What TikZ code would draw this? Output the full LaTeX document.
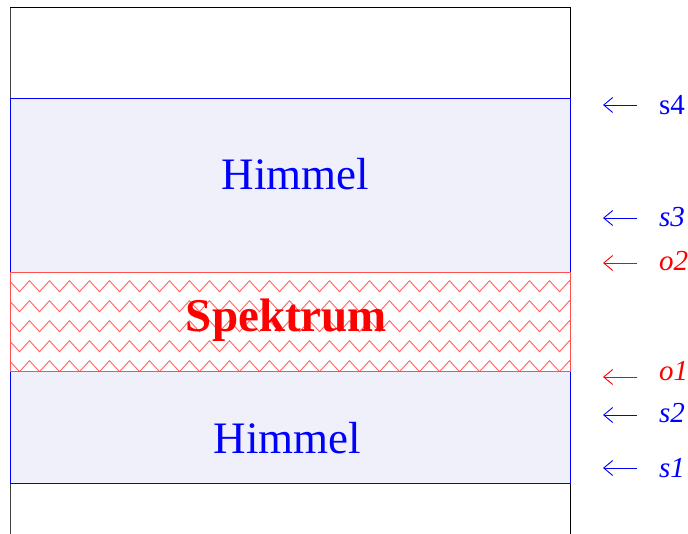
\documentclass[tikz,border=0pt]{standalone}
\usepackage{fontspec}
\usetikzlibrary{arrows.meta}
\setmainfont{Liberation Serif}
\definecolor{skyfill}{RGB}{240,240,250}
\definecolor{zigred}{RGB}{255,100,100}
\definecolor{boxred}{RGB}{255,80,80}
\begin{document}
\begin{tikzpicture}[x=1pt,y=-1pt,
  frameline/.style={draw=black,line width=0.9pt},
  skybox/.style={fill=skyfill,draw=blue,line width=0.8pt},
  specbox/.style={fill=white,draw=boxred,line width=0.9pt},
  zig/.style={draw=zigred,line width=0.9pt},
  bigtext/.style={font=\fontsize{45}{45}\selectfont,inner sep=0pt,anchor=base},
  sidearrow/.style={line width=0.9pt,-{Straight Barb[length=9pt,width=15pt,line width=0.9pt]}},
  lab/.style={font=\fontsize{29}{29}\selectfont,inner sep=0pt,anchor=west}]
\useasboundingbox (0,0) rectangle (688,534);
% frame
\draw[frameline,draw=black!75] (10,540) -- (10,7);
\draw[frameline] (10,7) -- (570,7) -- (570,540);
% sky boxes
\draw[skybox] (10,98) rectangle (570,272);
\draw[skybox] (10,371) rectangle (570,483);
% spectrum box
\draw[specbox] (10,272) rectangle (570,371);
\begin{scope}
  \clip (10,272) rectangle (570,371);
  \foreach \r in {0,...,4}{
    \pgfmathsetmacro{\yt}{280.7+20*\r}
    \pgfmathsetmacro{\yb}{\yt+11}
    \draw[zig] (-0.5,\yb) \foreach \k in {0,...,29}{ -- ({-0.5+20*\k+10},\yt) -- ({-0.5+20*\k+20},\yb) };
  }
\end{scope}
\draw[specbox,fill=none] (10,272) rectangle (570,371);
% texts
\node[bigtext,text=blue] (h1) at (295.5,190) {Himmel};
\node[bigtext,text=blue] (h2) at (287.5,453) {Himmel};
\node[bigtext,text=red,font=\fontsize{47}{47}\selectfont\bfseries] (sp) at (286.5,332) {Spektrum};
% side labels
\node[lab,text=blue] (s4) at (659,105) {s4};
\node[lab,text=blue] (s3) at (659,217) {\itshape s3};
\node[lab,text=red] (o2) at (659,261) {\itshape o2};
\node[lab,text=red] (o1) at (659,371) {\itshape o1};
\node[lab,text=blue] (s2) at (659,413) {\itshape s2};
\node[lab,text=blue] (s1) at (659,468) {\itshape s1};
\coordinate (a4s) at (637,105); \coordinate (a4e) at (603,105);
\coordinate (a3s) at (637,218); \coordinate (a3e) at (603,218);
\coordinate (ao2s) at (637,263); \coordinate (ao2e) at (603,263);
\coordinate (ao1s) at (637,377); \coordinate (ao1e) at (603,377);
\coordinate (a2s) at (637,415); \coordinate (a2e) at (603,415);
\coordinate (a1s) at (637,468); \coordinate (a1e) at (603,468);
\draw[sidearrow,blue] (a4s) -- (a4e);
\draw[sidearrow,blue] (a3s) -- (a3e);
\draw[sidearrow,red] (ao2s) -- (ao2e);
\draw[sidearrow,red] (ao1s) -- (ao1e);
\draw[sidearrow,blue] (a2s) -- (a2e);
\draw[sidearrow,blue] (a1s) -- (a1e);
\end{tikzpicture}
\end{document}
